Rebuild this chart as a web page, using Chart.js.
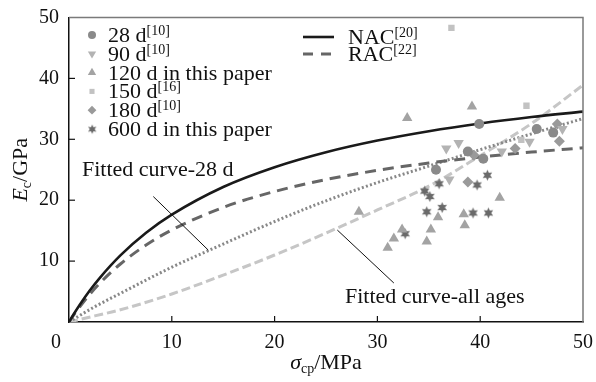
<!DOCTYPE html>
<html><head><meta charset="utf-8">
<script src="https://cdn.jsdelivr.net/npm/chart.js@4/dist/chart.umd.min.js"></script>
<style>html,body{margin:0;padding:0;background:#fff;}canvas{display:block}</style>
</head><body>
<canvas id="c" width="596" height="382"></canvas>
<script>
// ---- data ----
const xTickValues = [0, 10, 20, 30, 40, 50];
const yTickValues = [0, 10, 20, 30, 40, 50];

const d28X = [35.7, 38.8, 40.3, 39.9, 45.5, 47.1];
const d28Y = [25.0, 28.0, 26.8, 32.5, 31.7, 31.1];
const d90X = [36.7, 37.9, 37.0, 42.1, 44.8, 48.0];
const d90Y = [28.5, 29.4, 23.4, 28.0, 29.6, 31.7];
const d120X = [32.9, 39.2, 28.2, 41.9, 35.9, 38.4, 38.5, 35.2, 34.8, 32.4, 31.6, 31.0];
const d120Y = [33.5, 35.4, 18.1, 20.4, 17.2, 17.7, 15.9, 15.2, 13.2, 15.2, 13.7, 12.2];
const d150X = [37.2, 44.5, 44.0];
const d150Y = [48.3, 35.5, 29.9];
const d180X = [47.5, 47.7, 43.4, 38.8, 39.4];
const d180Y = [32.5, 29.7, 28.5, 23.0, 27.4];
const d600X = [40.7, 39.7, 36.0, 34.6, 35.1, 34.8, 36.3, 39.3, 40.8, 32.7];
const d600Y = [24.1, 22.5, 22.7, 21.5, 20.6, 18.1, 18.8, 17.9, 17.9, 14.5];

const curveX = [0, 0.5, 1, 2, 3, 5, 7.5, 10, 15, 20, 25, 30, 35, 40, 45, 50];
const nacY   = [0, 1.40, 2.71, 5.12, 7.26, 10.94, 14.65, 17.62, 22.16, 25.41, 27.87, 29.79, 31.33, 32.60, 33.66, 34.55];
const racY   = [0, 1.24, 2.40, 4.51, 6.37, 9.52, 12.64, 15.12, 18.82, 21.43, 23.39, 24.90, 26.10, 27.09, 27.90, 28.60];
const fitX     = [0, 2.5, 5, 10, 15, 20, 25, 30, 35, 40, 45, 50];
const fit28Y   = [0, 2.5, 4.7, 9.0, 12.8, 16.5, 19.9, 22.9, 25.6, 28.3, 30.9, 33.4];
const fitAllY  = [0, 1.0, 2.0, 4.6, 7.7, 11.0, 14.6, 18.4, 22.3, 27.3, 32.6, 38.9];

const seriesNames = ['28 d', '90 d', '120 d in this paper', '150 d', '180 d', '600 d in this paper'];
const seriesRefs  = ['[10]', '[10]', '', '[16]', '[10]', ''];
const lineNames = ['NAC', 'RAC'];
const lineRefs  = ['[20]', '[22]'];
const annot28  = 'Fitted curve-28 d';
const annotAll = 'Fitted curve-all ages';

// ---- styles ----
const SERIF = '"Liberation Serif", "Times New Roman", serif';
const colors = ['#8a8a8a', '#b3b3b3', '#a3a3a3', '#c2c2c2', '#9a9a9a', '#6a6a6a'];

function starCanvas(color, r) {
  const c = document.createElement('canvas');
  const s = Math.ceil(2 * r + 2);
  c.width = s; c.height = s;
  const g = c.getContext('2d');
  g.fillStyle = color;
  g.beginPath();
  for (let i = 0; i < 12; i++) {
    const a = -Math.PI / 2 + i * Math.PI / 6;
    const rr = i % 2 === 0 ? r : r * 0.5;
    const px = s / 2 + rr * Math.cos(a), py = s / 2 + rr * Math.sin(a);
    if (i === 0) g.moveTo(px, py); else g.lineTo(px, py);
  }
  g.closePath(); g.fill();
  return c;
}
const starImg = starCanvas(colors[5], 5.5);

const pts = (xs, ys) => xs.map((x, i) => ({x: x, y: ys[i]}));
const markerStyles = [
  {pointStyle: 'circle', radius: 5, rotation: 0},
  {pointStyle: 'triangle', radius: 6, rotation: 180},
  {pointStyle: 'triangle', radius: 6, rotation: 0},
  {pointStyle: 'rect', radius: 4.5, rotation: 0},
  {pointStyle: 'rectRot', radius: 5.5, rotation: 0},
  {pointStyle: starImg, radius: 5.5, rotation: 0}
];
const scatterData = [pts(d28X, d28Y), pts(d90X, d90Y), pts(d120X, d120Y), pts(d150X, d150Y), pts(d180X, d180Y), pts(d600X, d600Y)];

const datasets = [];
datasets.push({label: 'NAC', data: pts(curveX, nacY), showLine: true, borderColor: '#1a1a1a', borderWidth: 2.6, pointRadius: 0, cubicInterpolationMode: 'monotone', order: 10});
datasets.push({label: 'RAC', data: pts(curveX, racY), showLine: true, borderColor: '#666666', borderWidth: 3, borderDash: [11, 7], pointRadius: 0, cubicInterpolationMode: 'monotone', order: 10});
datasets.push({label: 'Fit 28', data: pts(fitX, fit28Y), showLine: true, borderColor: '#888888', borderWidth: 3, borderDash: [2, 2.3], pointRadius: 0, cubicInterpolationMode: 'monotone', order: 10});
datasets.push({label: 'Fit all', data: pts(fitX, fitAllY), showLine: true, borderColor: '#c6c6c6', borderWidth: 3, borderDash: [9, 4], pointRadius: 0, cubicInterpolationMode: 'monotone', order: 10});
scatterData.forEach((d, i) => {
  datasets.push({label: seriesNames[i], data: d, showLine: false,
    pointStyle: markerStyles[i].pointStyle, pointRadius: markerStyles[i].radius, pointRotation: markerStyles[i].rotation,
    backgroundColor: colors[i], borderColor: colors[i], borderWidth: 0, order: 1});
});

function drawParts(ctx, parts, x, y) {
  let cx = x;
  parts.forEach(p => {
    ctx.font = p.font;
    ctx.fillText(p.t, cx, y + (p.dy || 0));
    cx += ctx.measureText(p.t).width;
  });
  return cx - x;
}
function measureParts(ctx, parts) {
  let w = 0;
  parts.forEach(p => { ctx.font = p.font; w += ctx.measureText(p.t).width; });
  return w;
}

const decor = {
  id: 'decor',
  afterDraw(chart) {
    const ctx = chart.ctx, xs = chart.scales.x, ys = chart.scales.y, a = chart.chartArea;
    ctx.save();
    // frame top/right
    ctx.strokeStyle = '#7a7a7a'; ctx.lineWidth = 1.5;
    ctx.beginPath(); ctx.moveTo(a.left, a.top); ctx.lineTo(a.right, a.top); ctx.lineTo(a.right, a.bottom); ctx.stroke();
    // inward ticks
    ctx.strokeStyle = '#111'; ctx.lineWidth = 1.2;
    xTickValues.forEach(v => { if (v > 0 && v < 50) { const px = xs.getPixelForValue(v); ctx.beginPath(); ctx.moveTo(px, a.bottom); ctx.lineTo(px, a.bottom - 6); ctx.stroke(); } });
    yTickValues.forEach(v => { if (v > 0 && v < 50) { const py = ys.getPixelForValue(v); ctx.beginPath(); ctx.moveTo(a.left, py); ctx.lineTo(a.left + 6, py); ctx.stroke(); } });
    // origin label
    ctx.fillStyle = '#111'; ctx.textBaseline = 'middle'; ctx.textAlign = 'center';
    ctx.font = '20px ' + SERIF;
    ctx.fillText(String(xTickValues[0]), a.left - 13, a.bottom + 21);
    ctx.textAlign = 'left'; ctx.textBaseline = 'alphabetic';
    // left legend
    const lx = 92, ly0 = 35, dyRow = 18.8;
    seriesNames.forEach((n, i) => {
      const y = ly0 + i * dyRow;
      const ms = markerStyles[i];
      const r = ms.radius * 0.8;
      if (i === 5) { ctx.drawImage(starCanvas(colors[5], 4.8), lx - 5.8, y - 5.8); }
      else { ctx.fillStyle = colors[i]; ctx.strokeStyle = colors[i]; Chart.helpers.drawPoint(ctx, {pointStyle: ms.pointStyle, radius: r, rotation: ms.rotation, borderWidth: 0}, lx, y); }
      ctx.fillStyle = '#111';
      drawParts(ctx, [{t: n, font: '22px ' + SERIF}, {t: seriesRefs[i], font: '14px ' + SERIF, dy: -7}], 108, y + 7);
    });
    // right legend
    [0, 1].forEach(i => {
      const y = 37 + i * 17;
      ctx.strokeStyle = i === 0 ? '#1a1a1a' : '#666';
      ctx.lineWidth = i === 0 ? 2.6 : 3;
      ctx.setLineDash(i === 0 ? [] : [10, 8]);
      ctx.beginPath(); ctx.moveTo(303, y); ctx.lineTo(334, y); ctx.stroke();
      ctx.setLineDash([]);
      ctx.fillStyle = '#111';
      drawParts(ctx, [{t: lineNames[i], font: '22px ' + SERIF}, {t: lineRefs[i], font: '14px ' + SERIF, dy: -7}], 348, y + 7);
    });
    // annotations
    ctx.strokeStyle = '#111'; ctx.lineWidth = 1;
    ctx.beginPath(); ctx.moveTo(xs.getPixelForValue(8.2), ys.getPixelForValue(20.6)); ctx.lineTo(xs.getPixelForValue(13.55), ys.getPixelForValue(11.8)); ctx.stroke();
    ctx.beginPath(); ctx.moveTo(xs.getPixelForValue(26.1), ys.getPixelForValue(15.1)); ctx.lineTo(xs.getPixelForValue(31.6), ys.getPixelForValue(6.4)); ctx.stroke();
    ctx.fillStyle = '#111'; ctx.font = '22px ' + SERIF;
    ctx.fillText(annot28, 82, 176);
    ctx.fillText(annotAll, 345, 303);
    // x title
    const xt = [{t: 'σ', font: 'italic 22px ' + SERIF}, {t: 'cp', font: '14px ' + SERIF, dy: 4}, {t: '/MPa', font: '22px ' + SERIF}];
    const xw = measureParts(ctx, xt);
    drawParts(ctx, xt, (a.left + a.right) / 2 - xw / 2, 369);
    // y title
    const yt = [{t: 'E', font: 'italic 22px ' + SERIF}, {t: 'c', font: '14px ' + SERIF, dy: 4}, {t: '/GPa', font: '22px ' + SERIF}];
    const yw = measureParts(ctx, yt);
    ctx.translate(27, (a.top + a.bottom) / 2);
    ctx.rotate(-Math.PI / 2);
    drawParts(ctx, yt, -yw / 2, 0);
    ctx.restore();
  }
};

const zeroPad = s => { s.paddingLeft = 0; s.paddingRight = 0; s.paddingTop = 0; s.paddingBottom = 0; };

new Chart(document.getElementById('c'), {
  type: 'scatter',
  data: {datasets: datasets},
  options: {
    responsive: false, animation: false, devicePixelRatio: 1,
    layout: {padding: {top: 17.5, right: 13, left: 0, bottom: 0}},
    plugins: {legend: {display: false}, tooltip: {enabled: false}},
    scales: {
      x: {type: 'linear', min: 0, max: 50,
        afterBuildTicks: s => { s.ticks = xTickValues.map(v => ({value: v})); },
        ticks: {font: {family: SERIF, size: 20}, color: '#111', padding: 9, maxRotation: 0, callback: v => v === 0 ? '' : String(v)},
        grid: {display: true, drawOnChartArea: false, drawTicks: false},
        border: {color: '#111', width: 1.5},
        afterFit: s => { s.height = 60; zeroPad(s); }},
      y: {type: 'linear', min: 0, max: 50,
        afterBuildTicks: s => { s.ticks = yTickValues.map(v => ({value: v})); },
        ticks: {font: {family: SERIF, size: 20}, color: '#111', padding: 10, callback: v => v === 0 ? '' : String(v)},
        grid: {display: true, drawOnChartArea: false, drawTicks: false},
        border: {color: '#111', width: 1.5},
        afterFit: s => { s.width = 69; zeroPad(s); }}
    }
  },
  plugins: [decor]
});
</script>
</body></html>
